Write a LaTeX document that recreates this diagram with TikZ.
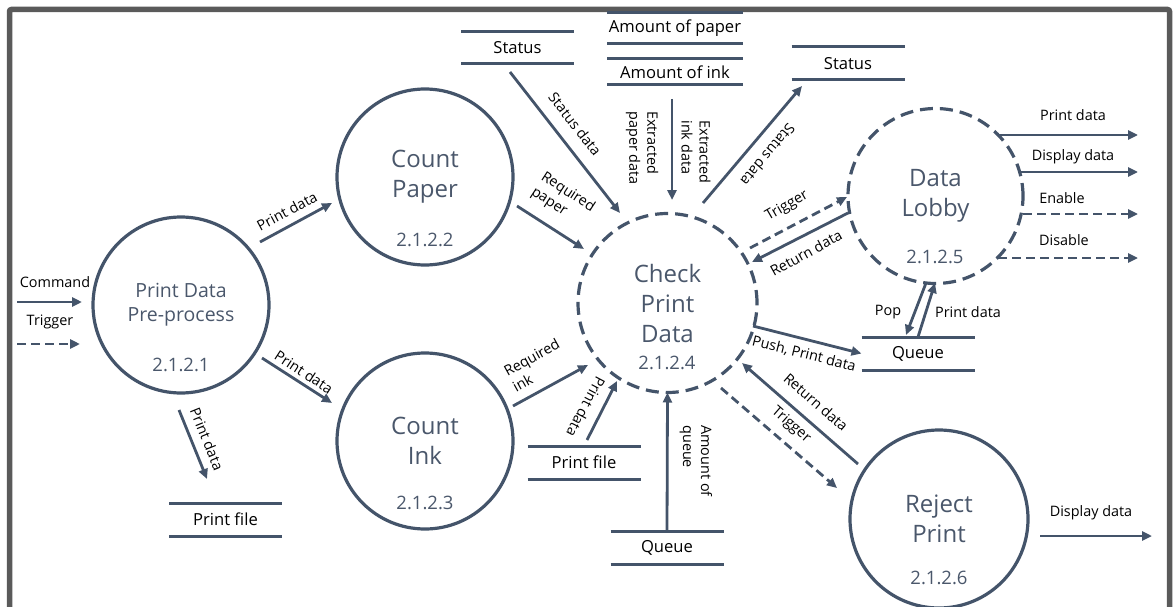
\documentclass[tikz,border=0pt]{standalone}
\usepackage{fontspec}
\setmainfont{Open Sans}
\usetikzlibrary{arrows.meta}
\definecolor{ink}{HTML}{44546A}
\definecolor{framegray}{HTML}{5A5A5A}
\definecolor{title}{HTML}{4A576B}

\begin{document}
\begin{tikzpicture}[x=1pt,y=-1pt,
  proc/.style={circle, draw=ink, line width=3.2pt, minimum size=176pt, inner sep=0pt, outer sep=0pt,
    text=title, align=center, font=\fontsize{24}{30}\selectfont},
  dproc/.style={proc, dash pattern=on 13pt off 7pt},
  num/.style={text=title, inner sep=0pt, font=\fontsize{18.5}{20}\selectfont},
  storeline/.style={draw=ink, line width=3pt},
  store/.style={minimum width=113pt, minimum height=32pt, inner sep=0pt, outer sep=0pt,
    font=\fontsize{16.6}{18}\selectfont,
    append after command={(\tikzlastnode.north west) edge[storeline] (\tikzlastnode.north east)
      (\tikzlastnode.south west) edge[storeline] (\tikzlastnode.south east)}},
  flow/.style={draw=ink, line width=2.8pt, -{Triangle[length=10pt,width=9pt]}},
  dflow/.style={flow, dash pattern=on 9pt off 5pt},
  lbl/.style={inner sep=0pt, font=\fontsize{14.4}{18}\selectfont},
  ]
\useasboundingbox (0,0) rectangle (1175,607);
\clip (0,0) rectangle (1175,607);

% outer frame (open at the bottom)
\draw[framegray, line width=5.5pt, rounded corners=2pt]
  (9.5,650) -- (9.5,9.5) -- (1169.5,9.5) -- (1169.5,650);

% processes
\node[proc, font=\fontsize{19.5}{24}\selectfont] (pre) at (181,305) {Print Data\\Pre-process};
\node[num] (npre) at (181,365) {2.1.2.1};
\node[proc] (paper) at (425,177) {Count\\Paper};
\node[num] (npaper) at (425,240) {2.1.2.2};
\node[proc] (cink) at (425,441) {Count\\Ink};
\node[num] (ncink) at (425,503) {2.1.2.3};
\node[dproc, minimum size=179pt] (check) at (667.5,303) {Check\\Print\\Data};
\node[num] (ncheck) at (667,363) {2.1.2.4};
\node[dproc, minimum size=175pt] (lobby) at (935.5,196) {Data\\Lobby};
\node[num] (nlobby) at (935,257) {2.1.2.5};
\node[proc, minimum size=178pt] (reject) at (939,519) {Reject\\Print};
\node[num] (nreject) at (939,578) {2.1.2.6};

% data stores
\node[store] (stl) at (517.5,47.5) {Status};
\node[store, minimum width=136pt, minimum height=31pt] (amtp) at (675,28.5) {Amount of paper};
\node[store, minimum width=136pt, minimum height=26pt] (amti) at (675,72) {Amount of ink};
\node[store, minimum height=33pt] (str) at (848,63.5) {Status};
\node[store, minimum height=33pt] (qr) at (918,353.5) {Queue};
\node[store, minimum height=33pt] (qb) at (667,547.5) {Queue};
\node[store, minimum height=33pt] (pfc) at (584,462.5) {Print file};
\node[store, minimum height=33pt] (pfl) at (225.5,519.5) {Print file};

% connector ends
\coordinate (cmdS) at (17,302);   \coordinate (cmdE) at (82,302);
\coordinate (trgS) at (17,344);   \coordinate (trgE) at (80,344);
\coordinate (p1S) at (260,242);   \coordinate (p1E) at (332,203);
\coordinate (p2S) at (262,358);   \coordinate (p2E) at (332,403);
\coordinate (p3S) at (179,410);   \coordinate (p3E) at (207,479);
\coordinate (rpS) at (517,206);   \coordinate (rpE) at (584,249);
\coordinate (sdS) at (510,72);    \coordinate (sdE) at (620,213);
\coordinate (exS) at (672,99);    \coordinate (exE) at (672,200);
\coordinate (srS) at (703,203);   \coordinate (srE) at (802,86);
\coordinate (tuS) at (750,248);   \coordinate (tuE) at (847,197);
\coordinate (ruS) at (848,213);   \coordinate (ruE) at (752,262);
\coordinate (o1S) at (998,135);   \coordinate (o1E) at (1138,135);
\coordinate (o2S) at (1020,172);  \coordinate (o2E) at (1138,172);
\coordinate (o3S) at (1023,214);  \coordinate (o3E) at (1138,214);
\coordinate (o4S) at (998,258);   \coordinate (o4E) at (1138,258);
\coordinate (popS) at (926,283);  \coordinate (popE) at (906,335);
\coordinate (pqE) at (935,283);
\coordinate (puS) at (753,326);
\coordinate (rlS) at (858,464);   \coordinate (rlE) at (742,363);
\coordinate (tlS) at (721,388);   \coordinate (tlE) at (837,488);
\coordinate (ddS) at (1040,536);  \coordinate (ddE) at (1152,536);
\coordinate (riS) at (513,406);   \coordinate (riE) at (588,365);
\coordinate (pfS) at (587,440);   \coordinate (pfE) at (617,381);

% data flows
\draw[flow] (cmdS) -- (cmdE);
\draw[dflow] (trgS) -- (trgE);
\draw[flow] (p1S) -- (p1E);
\draw[flow] (p2S) -- (p2E);
\draw[flow] (p3S) -- (p3E);
\draw[flow] (rpS) -- (rpE);
\draw[flow] (sdS) -- (sdE);
\draw[flow] (exS) -- (exE);
\draw[flow] (srS) -- (srE);
\draw[dflow] (tuS) -- (tuE);
\draw[flow] (ruS) -- (ruE);
\draw[flow] (o1S) -- (o1E);
\draw[flow] (o2S) -- (o2E);
\draw[dflow] (o3S) -- (o3E);
\draw[dflow] (o4S) -- (o4E);
\draw[flow] (popS) -- (popE);
\draw[flow] (qr.north) -- (pqE);
\draw[flow] (puS) -- (qr.west);
\draw[flow] (rlS) -- (rlE);
\draw[dflow] (tlS) -- (tlE);
\draw[flow] (ddS) -- (ddE);
\draw[flow] (riS) -- (riE);
\draw[flow] (pfS) -- (pfE);
\draw[flow] (qb.north) -- (check.south);

% flow labels
\node[lbl] (l1) at (55,282) {Command};
\node[lbl] (l2) at (50,322) {Trigger};
\node[lbl, rotate=28] (l3) at (287,211) {Print data};
\node[lbl, rotate=-33] (l4) at (304,372) {Print data};
\node[lbl, rotate=-68] (l5) at (207,439) {Print data};
\node[lbl, rotate=-52] (l6) at (575,124) {Status data};
\node[lbl, rotate=-33, align=left] (l7) at (563,200) {Required\\paper};
\node[lbl, rotate=-90, align=left] (l8) at (642,148) {Extracted\\paper data};
\node[lbl, rotate=-90, align=left] (l9) at (696,152) {Extracted\\ink data};
\node[lbl, rotate=230] (l10) at (768,155) {Status data};
\node[lbl, rotate=30] (l11) at (787,206) {Trigger};
\node[lbl, rotate=29] (l12) at (806,253) {Return data};
\node[lbl] (l13) at (1073,115) {Print data};
\node[lbl] (l14) at (1073,157) {Display data};
\node[lbl] (l15) at (1062,198) {Enable};
\node[lbl] (l16) at (1064,240) {Disable};
\node[lbl] (l17) at (888,312) {Pop};
\node[lbl] (l18) at (968,312) {Print data};
\node[lbl, rotate=-14] (l19) at (804,354) {Push, Print data};
\node[lbl, rotate=-41] (l20) at (816,402) {Return data};
\node[lbl, rotate=-41] (l21) at (791,425) {Trigger};
\node[lbl] (l22) at (1091,513) {Display data};
\node[lbl, rotate=29, align=left] (l23) at (536,365) {Required\\ink};
\node[lbl, rotate=-118] (l24) at (586,407) {Print data};
\node[lbl, rotate=-90, align=left] (l25) at (696,461) {Amount of\\queue};
\end{tikzpicture}
\end{document}
